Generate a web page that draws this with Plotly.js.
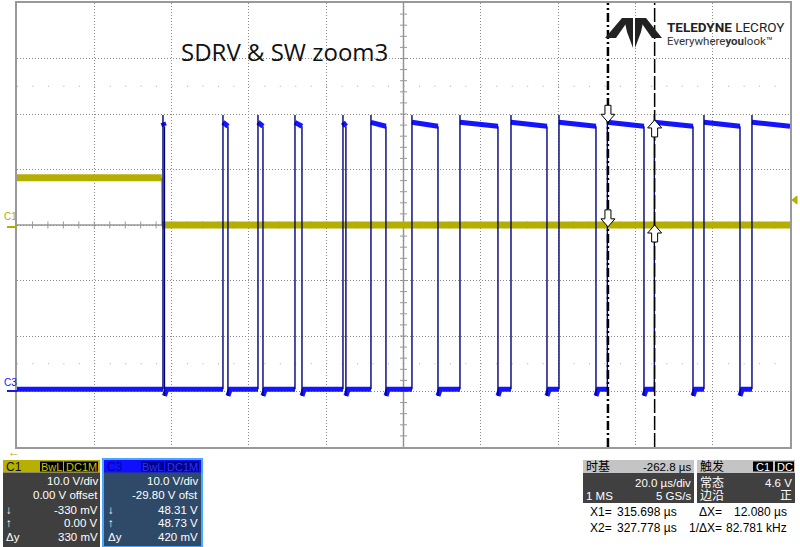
<!DOCTYPE html>
<html><head><meta charset="utf-8">
<script src="https://cdn.plot.ly/plotly-3.0.1.min.js"></script>
<style>html,body{margin:0;padding:0;background:#fff;overflow:hidden}#chart{width:800px;height:547px}</style>
</head><body><div id="chart"></div>
<script>
// ---------------- data ----------------
const timeRangeUs = [162.8, 362.8];          // 20 us/div, 10 div
const c1RangeV = [-40, 40];                   // C1 10 V/div, 0 V offset
const c3RangeV = [-10.2, 69.8];               // C3 10 V/div, -29.80 V offset
// C1 (SDRV)
const c1TimesUs = [162.8, 200.25, 200.3, 362.8];
const c1Volts   = [8.5, 8.5, 0.0, 0.0];
// C3 (SW) switching edges
const c3RiseUs = [200.57, 216.09, 225.15, 234.72, 247.14, 254.38, 264.99, 277.41, 290.61, 303.03, 315.55, 327.70, 340.54, 352.96];
const c3FallUs = [200.95, 217.38, 226.44, 236.53, 247.90, 258.26, 271.72, 287.24, 299.92, 312.60, 325.02, 337.70, 349.86, null];
const c3LowV = 0.2, c3UnderV = -1.0, c3PeakV = 49.6, c3HighStartV = 48.3, c3HighEndV = 47.6;
// cursors
const cursorTimesUs = [315.698, 327.778];
const cursorC1V = [-0.33, 0.00];
const cursorC3V = [48.31, 48.73];

// ---------------- geometry helpers (plot area pixels) ----------------
const L = 17, T = 3, W = 773, H = 444;
const px = x => (x - L) / W;
const py = y => (T + H - y) / H;

// ---------------- traces ----------------
const YEL = '#b4ae00', BLU = '#1414ff', NAV = '#00007a';
const c1LvlX = [c1TimesUs[0], c1TimesUs[1], null, c1TimesUs[2], c1TimesUs[3]];
const c1LvlY = [c1Volts[0], c1Volts[1], null, c1Volts[2], c1Volts[3]];
const c1EdgeX = [c1TimesUs[1], c1TimesUs[2]];
const c1EdgeY = [c1Volts[1], c1Volts[2]];

const lvX = [], lvY = [], edX = [], edY = [];
let prev = timeRangeUs[0], prevV = c3LowV;
for (let i = 0; i < c3RiseUs.length; i++) {
  const r = c3RiseUs[i], f = c3FallUs[i];
  lvX.push(prev, Math.min(prev + 0.6, r), r, null); lvY.push(prevV, c3LowV, c3LowV, null);
  edX.push(r, r, null); edY.push(c3LowV, c3PeakV, null);
  const fe = (f === null) ? timeRangeUs[1] : f;
  lvX.push(r, fe, null); lvY.push(c3HighStartV, c3HighEndV, null);
  if (f !== null) { edX.push(f, f, null); edY.push(c3HighEndV, c3UnderV, null); prev = f; prevV = c3UnderV; }
}

const traces = [
  {x: c1LvlX, y: c1LvlY, mode: 'lines', line: {color: YEL, width: 7}, yaxis: 'y', hoverinfo: 'skip'},
  {x: c1EdgeX, y: c1EdgeY, mode: 'lines', line: {color: '#8a8640', width: 1}, yaxis: 'y', hoverinfo: 'skip'},
  {x: lvX, y: lvY, mode: 'lines', line: {color: BLU, width: 5}, yaxis: 'y2', hoverinfo: 'skip', connectgaps: false},
  {x: edX, y: edY, mode: 'lines', line: {color: NAV, width: 1.4}, yaxis: 'y2', hoverinfo: 'skip', connectgaps: false}
];

// ---------------- shapes ----------------
const shapes = [];
const midT = (timeRangeUs[0] + timeRangeUs[1]) / 2;
shapes.push({type: 'line', xref: 'x', yref: 'paper', x0: midT, x1: midT, y0: 0, y1: 1, line: {color: '#999', width: 1.5}, layer: 'below'});
shapes.push({type: 'line', xref: 'paper', yref: 'y', x0: 0, x1: 1, y0: 0, y1: 0, line: {color: '#999', width: 1.5}, layer: 'below'});
for (let t = timeRangeUs[0] + 4; t < timeRangeUs[1]; t += 4) {
  shapes.push({type: 'line', xref: 'x', yref: 'paper', x0: t, x1: t, y0: 0.5 - 3.5 / H, y1: 0.5 + 3.5 / H, line: {color: '#999', width: 1}, layer: 'below'});
}
for (let v = c1RangeV[0] + 2; v < c1RangeV[1]; v += 2) {
  shapes.push({type: 'line', xref: 'paper', yref: 'y', x0: 0.5 - 3.5 / W, x1: 0.5 + 3.5 / W, y0: v, y1: v, line: {color: '#999', width: 1}, layer: 'below'});
}
[25, -25].forEach(v => shapes.push({type: 'line', xref: 'paper', yref: 'y', x0: 0, x1: 1, y0: v, y1: v, line: {color: '#aaa', width: 1, dash: '1px,14.46px'}, layer: 'below'}));
// cursors
shapes.push({type: 'line', xref: 'x', yref: 'paper', x0: cursorTimesUs[0], x1: cursorTimesUs[0], y0: 0, y1: 1, line: {color: '#000', width: 2.5, dash: '9px,3px,2px,3px'}});
shapes.push({type: 'line', xref: 'x', yref: 'paper', x0: cursorTimesUs[1], x1: cursorTimesUs[1], y0: 0, y1: 1, line: {color: '#000', width: 1.5, dash: '14px,3px'}});
// pixel-mode paths: positive y is upward
const downArrow = 'M0,0 L-7,8 L-3,8 L-3,17 L3,17 L3,8 L7,8 Z';
const upArrow = 'M0,0 L-7,-8 L-3,-8 L-3,-17 L3,-17 L3,-8 L7,-8 Z';
function arrow(t, v, yref, path) {
  shapes.push({type: 'path', xref: 'x', yref: yref, xsizemode: 'pixel', ysizemode: 'pixel', xanchor: t, yanchor: v,
    path: path, fillcolor: '#fff', line: {color: '#000', width: 1}});
}
arrow(cursorTimesUs[0], cursorC3V[0], 'y2', downArrow);
arrow(cursorTimesUs[0], cursorC1V[0], 'y', downArrow);
arrow(cursorTimesUs[1], cursorC3V[1], 'y2', upArrow);
arrow(cursorTimesUs[1], cursorC1V[1], 'y', upArrow);

// channel markers
shapes.push({type: 'line', xref: 'paper', yref: 'paper', x0: px(7), x1: px(17), y0: py(227), y1: py(227), line: {color: YEL, width: 2}});
shapes.push({type: 'line', xref: 'paper', yref: 'paper', x0: px(7), x1: px(17), y0: py(391), y1: py(391), line: {color: BLU, width: 2}});
shapes.push({type: 'path', xref: 'paper', yref: 'paper', path: `M${px(792)},${py(200)} L${px(797)},${py(196)} L${px(797)},${py(204)} Z`, fillcolor: YEL, line: {color: YEL, width: 1}});

// logo
const logoPaths = [
  [[605,38],[622,18],[630,18],[616,38]],
  [[624,18],[633,18],[633,48],[627,32]],
  [[635,18],[644,18],[641,32],[635,48]],
  [[638,18],[646,18],[662,38],[652,38]]
];
logoPaths.forEach(p => {
  const d = p.map((q, i) => (i ? 'L' : 'M') + px(q[0]) + ',' + py(q[1])).join(' ') + ' Z';
  shapes.push({type: 'path', xref: 'paper', yref: 'paper', path: d, fillcolor: '#222', line: {width: 0}});
});

// panels
function rect(x0, y0, x1, y1, fill, lineColor, lw) {
  shapes.push({type: 'rect', xref: 'paper', yref: 'paper', x0: px(x0), x1: px(x1), y0: py(y1), y1: py(y0),
    fillcolor: fill, line: {color: lineColor || fill, width: lw || 0}, layer: 'above'});
}
rect(3, 460, 100, 472.5, '#b8b000');
rect(3, 472.5, 100, 547, '#3f3f3f');
rect(40, 461.5, 63, 471.5, '#000');
rect(64, 461.5, 98, 471.5, '#000');
rect(103, 459, 202, 547, '#2e4a68', '#4aa8ff', 2);
rect(104, 460, 201, 472.5, '#1010ff');
rect(141, 461.5, 164, 471.5, '#00008a');
rect(165, 461.5, 199, 471.5, '#00008a');
rect(583, 460, 694, 473, '#c4c4c4');
rect(583, 473, 694, 503, '#404040');
rect(697, 460, 795, 473, '#c4c4c4');
rect(697, 473, 795, 503, '#404040');
rect(753, 461.5, 773, 471.5, '#000');
rect(775, 461.5, 794, 471.5, '#000');

// ---------------- annotations ----------------
const ann = [];
const SANS = 'Liberation Sans, Arial, sans-serif';
const CJK = 'Liberation Sans, Noto Sans CJK SC, sans-serif';
function txt(s, x, y, anchor, color, size, family) {
  ann.push({text: s, xref: 'paper', yref: 'paper', x: px(x), y: py(y), xanchor: anchor, yanchor: 'middle', showarrow: false,
    font: {color: color, size: size || 11.5, family: family || SANS}, borderpad: 0});
}
txt('SDRV &amp; SW zoom3', 180, 52, 'left', '#111', 24, 'Open Sans, sans-serif');
txt('<b>TELEDYNE</b> LECROY', 666, 27, 'left', '#222', 13.5, 'Roboto, sans-serif');
txt('Everywhere<b>you</b>look\u2122', 666, 41, 'left', '#333', 11.5, 'Roboto, sans-serif');
txt('C1', 3, 217, 'left', YEL, 10);
txt('C3', 3, 382, 'left', BLU, 10);
txt('\u2190', 7, 452, 'left', YEL, 12);
// C1 panel
txt('C1', 5, 466.5, 'left', '#111', 12);
txt('BwL', 51.5, 466.5, 'center', '#c8c000', 11);
txt('DC1M', 81, 466.5, 'center', '#c8c000', 11);
const rowsY = [481, 494.5, 509.5, 523, 537];
['10.0 V/div', '0.00 V offset', '-330 mV', '0.00 V', '330 mV'].forEach((s, i) => txt(s, 99, rowsY[i], 'right', '#fff'));
['\u2193', '\u2191', '\u0394y'].forEach((s, i) => txt(s, 5, rowsY[i + 2], 'left', '#fff'));
// C3 panel
txt('C3', 106, 466.5, 'left', '#0000a8', 12);
txt('BwL', 152.5, 466.5, 'center', '#3030ff', 11);
txt('DC1M', 182, 466.5, 'center', '#3030ff', 11);
['10.0 V/div', '-29.80 V ofst', '48.31 V', '48.73 V', '420 mV'].forEach((s, i) => txt(s, 199, rowsY[i], 'right', '#fff'));
['\u2193', '\u2191', '\u0394y'].forEach((s, i) => txt(s, 107, rowsY[i + 2], 'left', '#fff'));
// timebase / trigger
txt('时基', 585, 466.5, 'left', '#000', 12, CJK);
txt('-262.8 µs', 692, 466.5, 'right', '#000');
txt('20.0 µs/div', 692, 482.5, 'right', '#fff');
txt('1 MS', 585, 496, 'left', '#fff');
txt('5 GS/s', 692, 496, 'right', '#fff');
txt('触发', 699, 466.5, 'left', '#000', 12, CJK);
txt('C1', 763, 466.5, 'center', '#fff', 11);
txt('DC', 784.5, 466.5, 'center', '#fff', 11);
txt('常态', 699, 482.5, 'left', '#fff', 12, CJK);
txt('4.6 V', 793, 482.5, 'right', '#fff');
txt('边沿', 699, 496.5, 'left', '#fff', 12, CJK);
txt('正', 793, 496.5, 'right', '#fff', 12, CJK);
txt('X1=', 589, 512, 'left', '#000', 12);
txt('315.698 µs', 678, 512, 'right', '#000', 12);
txt('\u0394X=', 698, 512, 'left', '#000', 12);
txt('12.080 µs', 788, 512, 'right', '#000', 12);
txt('X2=', 589, 528, 'left', '#000', 12);
txt('327.778 µs', 678, 528, 'right', '#000', 12);
txt('1/\u0394X=', 688, 528, 'left', '#000', 12);
txt('82.781 kHz', 788, 528, 'right', '#000', 12);

// ---------------- layout ----------------
const layout = {
  width: 800, height: 547, margin: {l: L, r: 800 - L - W, t: T, b: 547 - T - H, pad: 0},
  paper_bgcolor: '#fff', plot_bgcolor: '#fff', showlegend: false,
  xaxis: {range: timeRangeUs, tick0: timeRangeUs[0], dtick: 20, showgrid: true, gridcolor: '#8a8a8a', griddash: '1px,2px', gridwidth: 1,
    zeroline: false, showticklabels: false, ticks: '', showline: true, mirror: true, linecolor: '#999', linewidth: 2, fixedrange: true},
  yaxis: {range: c1RangeV, tick0: c1RangeV[0], dtick: 10, showgrid: true, gridcolor: '#8a8a8a', griddash: '1px,2px', gridwidth: 1,
    zeroline: false, showticklabels: false, ticks: '', showline: true, mirror: true, linecolor: '#999', linewidth: 2, fixedrange: true},
  yaxis2: {range: c3RangeV, overlaying: 'y', visible: false, fixedrange: true},
  shapes: shapes, annotations: ann
};
Plotly.newPlot('chart', traces, layout, {staticPlot: true, displayModeBar: false});
</script></body></html>
